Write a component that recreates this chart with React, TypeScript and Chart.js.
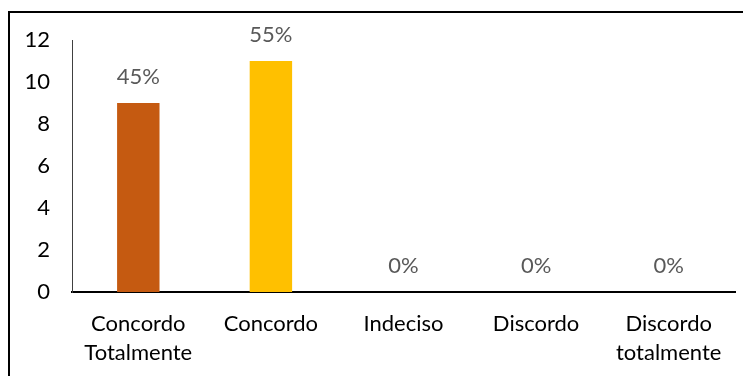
import React, { useEffect, useRef } from "react";
import { Chart, registerables } from "chart.js";

Chart.register(...registerables);

const categories: (string | string[])[] = [
  ["Concordo", "Totalmente"],
  "Concordo",
  "Indeciso",
  "Discordo",
  ["Discordo", "totalmente"],
];
const counts = [9, 11, 0, 0, 0];
const percentLabels = ["45%", "55%", "0%", "0%", "0%"];
const barColors = ["#C55A11", "#FFC000", "#A5A5A5", "#4472C4", "#70AD47"];

const FONT = "Lato, 'Noto Sans', sans-serif";

const labelPlugin = {
  id: "pctLabels",
  afterDatasetsDraw(chart: any) {
    const ctx = chart.ctx;
    const meta = chart.getDatasetMeta(0);
    ctx.save();
    ctx.font = `22px ${FONT}`;
    ctx.fillStyle = "#595959";
    ctx.textAlign = "center";
    ctx.textBaseline = "middle";
    meta.data.forEach((el: any, i: number) => {
      ctx.fillText(percentLabels[i], el.x, el.y - 26);
    });
    ctx.restore();
  },
};

export default function App() {
  const ref = useRef<HTMLCanvasElement>(null);
  useEffect(() => {
    document.body.style.overflow = "hidden";
    const chart = new Chart(ref.current!, {
      type: "bar",
      data: {
        labels: categories,
        datasets: [
          {
            data: counts,
            backgroundColor: barColors,
            barPercentage: 0.64,
            categoryPercentage: 0.5,
          },
        ],
      },
      options: {
        animation: false,
        responsive: false,
        devicePixelRatio: 1,
        layout: { padding: { left: 0, right: 16, top: 27, bottom: 0 } },
        plugins: { legend: { display: false }, tooltip: { enabled: false } },
        scales: {
          x: {
            grid: { display: false, drawTicks: false },
            border: { display: true, color: "#000000", width: 2 },
            ticks: {
              color: "#000000",
              font: { family: FONT, size: 22, lineHeight: 1.32 },
              padding: 17,
              maxRotation: 0,
              autoSkip: false,
            },
            afterFit(scale: any) {
              scale.height = 84;
              scale.paddingLeft = 0;
              scale.paddingRight = 0;
            },
          },
          y: {
            min: 0,
            max: 12,
            grid: { display: false, drawTicks: false },
            border: { display: true, color: "#404040", width: 1 },
            ticks: {
              stepSize: 2,
              color: "#000000",
              font: { family: FONT, size: 22 },
              padding: 22,
            },
            afterFit(scale: any) {
              scale.width = 62;
              scale.paddingTop = 0;
              scale.paddingBottom = 0;
            },
          },
        },
      },
      plugins: [labelPlugin],
    });
    return () => chart.destroy();
  }, []);
  return (
    <div style={{ paddingTop: 3 }}>
      <div
        style={{
          borderTop: "2px solid #000",
          borderLeft: "2px solid #000",
          width: 741,
          height: 363,
          overflow: "hidden",
        }}
      >
        <canvas ref={ref} width={741} height={363} style={{ display: "block" }} />
      </div>
    </div>
  );
}
